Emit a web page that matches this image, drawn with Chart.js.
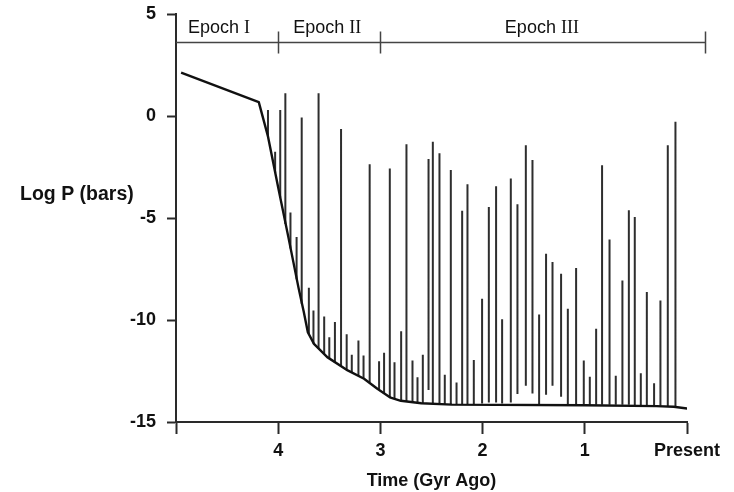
<!DOCTYPE html>
<html>
<head>
<meta charset="utf-8">
<script src="https://cdn.jsdelivr.net/npm/chart.js@4/dist/chart.umd.min.js"></script>
<style>
  html, body { margin: 0; padding: 0; background: #fff; }
  #wrap { width: 734px; height: 492px; }
</style>
</head>
<body>
<div id="wrap"><canvas id="pressureChart"></canvas></div>
<script>
// background pressure curve (Gyr ago, log bars)
const curveTime = [4.95, 4.19, 4.1, 4.0, 3.9, 3.8, 3.75, 3.71, 3.65, 3.52, 3.32, 3.16, 3.03, 2.9, 2.8, 2.6, 2.3, 1.0, 0.3, 0.13, -0.02];
const curveLogP = [2.13, 0.68, -1.0, -3.5, -5.95, -8.45, -9.6, -10.6, -11.17, -11.82, -12.47, -12.88, -13.37, -13.81, -13.96, -14.08, -14.15, -14.18, -14.22, -14.25, -14.35];

// episodic spikes: time, bottom and top of each spike
const spikeTime = [4.10, 4.03, 3.98, 3.93, 3.88, 3.82, 3.77, 3.70, 3.655, 3.605, 3.55, 3.50, 3.445, 3.385, 3.33, 3.28, 3.215, 3.165, 3.105,
  3.013, 2.964, 2.908, 2.862, 2.797, 2.745, 2.686, 2.637, 2.585, 2.529, 2.487, 2.422, 2.37, 2.311, 2.255, 2.2, 2.148,
  2.086, 2.005, 1.939, 1.868, 1.809, 1.724, 1.659, 1.577, 1.512, 1.447, 1.379, 1.316, 1.232, 1.166,
  1.085, 1.01, 0.951, 0.889, 0.831, 0.758, 0.697, 0.632, 0.569, 0.511, 0.452, 0.393, 0.322, 0.26, 0.188, 0.113];
const spikeLow = [-1.05, -2.8, -4.0, -5.3, -6.5, -8.0, -9.2, -10.7, -11.15, -11.4, -11.65, -11.87, -12.08, -12.25, -12.45, -12.57, -12.74, -12.87, -13.05,
  -13.4, -13.6, -13.8, -13.88, -13.96, -14.0, -14.04, -14.07, -14.1, -13.43, -14.13, -14.13, -14.15, -14.15, -14.15, -14.15, -14.15,
  -14.16, -14.09, -14.04, -14.04, -14.09, -14.04, -13.63, -13.22, -13.6, -14.13, -13.66, -13.22, -13.76, -14.16,
  -14.16, -14.16, -14.16, -14.16, -14.16, -14.16, -14.16, -14.16, -14.16, -14.18, -14.18, -14.2, -14.2, -14.2, -14.22, -14.24];
const spikeHigh = [0.29, -1.75, 0.29, 1.11, -4.73, -5.93, -0.07, -8.42, -9.53, 1.11, -9.83, -10.84, -10.1, -0.64, -10.7, -11.7, -11.0, -11.74, -2.36,
  -12.02, -11.6, -2.57, -12.07, -10.55, -1.38, -11.99, -12.81, -11.7, -2.11, -1.26, -1.83, -12.68, -2.65, -13.06, -4.65, -3.34,
  -11.96, -8.96, -4.46, -3.44, -9.96, -3.06, -4.32, -1.43, -2.16, -9.73, -6.75, -7.16, -7.73, -9.45,
  -7.45, -11.99, -12.78, -10.43, -2.42, -6.06, -12.73, -8.06, -4.62, -4.95, -12.61, -8.63, -13.1, -9.04, -1.43, -0.28];

const xTicks = [5, 4, 3, 2, 1, 0];
const yTicks = [5, 0, -5, -10, -15];

// epochs: boundaries (Gyr ago) and where each name sits
const epochBounds = [5, 4, 3, -0.18];
const epochNames = ['I', 'II', 'III'];
const epochLabelAt = [4.58, 3.52, 1.42];

const ink = '#2a2a2a';
const boldFont = { family: 'Liberation Sans, Arial, sans-serif', size: 18, weight: 'bold' };

const spikePoints = [];
spikeTime.forEach((t, i) => {
    spikePoints.push({ x: t, y: spikeLow[i] });
    spikePoints.push({ x: t, y: spikeHigh[i] });
    spikePoints.push({ x: t, y: null });
});

const extras = {
    id: 'extras',
    afterDraw(chart) {
        const ctx = chart.ctx;
        const xs = chart.scales.x;
        const ys = chart.scales.y;
        ctx.save();

        // epoch bracket
        const by = ys.getPixelForValue(3.6);
        ctx.strokeStyle = '#444';
        ctx.lineWidth = 1.5;
        ctx.beginPath();
        ctx.moveTo(xs.getPixelForValue(epochBounds[0]), by);
        ctx.lineTo(xs.getPixelForValue(epochBounds[epochBounds.length - 1]), by);
        for (let i = 1; i < epochBounds.length; i++) {
            const px = Math.round(xs.getPixelForValue(epochBounds[i])) + 0.5;
            ctx.moveTo(px, by - 11);
            ctx.lineTo(px, by + 11);
        }
        ctx.stroke();

        ctx.fillStyle = '#111';
        ctx.textBaseline = 'alphabetic';
        const ly = by - 10;
        epochNames.forEach((nm, i) => {
            ctx.font = '18px "Liberation Sans", Arial, sans-serif';
            const w1 = ctx.measureText('Epoch ').width;
            ctx.font = '18px "Liberation Serif", "Times New Roman", serif';
            const w2 = ctx.measureText(nm).width;
            const cx = xs.getPixelForValue(epochLabelAt[i]);
            const x0 = cx - (w1 + w2) / 2;
            ctx.font = '18px "Liberation Sans", Arial, sans-serif';
            ctx.textAlign = 'left';
            ctx.fillText('Epoch ', x0, ly);
            ctx.font = '18px "Liberation Serif", "Times New Roman", serif';
            ctx.fillText(nm, x0 + w1, ly);
        });

        // horizontal y axis title
        ctx.font = 'bold 19.5px "Liberation Sans", Arial, sans-serif';
        ctx.textAlign = 'left';
        ctx.fillText('Log P (bars)', 20, 200);
        ctx.restore();
    }
};

new Chart(document.getElementById('pressureChart'), {
    type: 'line',
    data: {
        datasets: [
            {
                label: 'Spikes',
                data: spikePoints,
                borderColor: '#2e2e2e',
                borderWidth: 2,
                pointRadius: 0,
                spanGaps: false,
                borderCapStyle: 'butt',
                order: 2
            },
            {
                label: 'Background',
                data: curveTime.map((t, i) => ({ x: t, y: curveLogP[i] })),
                borderColor: '#111',
                borderWidth: 2.4,
                pointRadius: 0,
                tension: 0,
                borderJoinStyle: 'round',
                order: 1
            }
        ]
    },
    options: {
        responsive: true,
        maintainAspectRatio: false,
        animation: false,
        layout: { padding: { top: 14, right: 47, left: 0, bottom: 0 } },
        plugins: {
            legend: { display: false },
            tooltip: { enabled: false }
        },
        scales: {
            x: {
                type: 'linear',
                reverse: true,
                min: 0,
                max: 5,
                afterBuildTicks: (s) => { s.ticks = xTicks.map(v => ({ value: v })); },
                afterFit: (s) => { s.height = 70; s.paddingLeft = 0; s.paddingRight = 0; },
                ticks: {
                    autoSkip: false,
                    maxRotation: 0,
                    padding: 6,
                    color: '#111',
                    font: boldFont,
                    callback: (v) => v === 0 ? 'Present' : (v === 5 ? '' : String(v))
                },
                grid: { drawOnChartArea: false, drawTicks: true, tickLength: 12, tickColor: ink, tickWidth: 2 },
                border: { display: true, color: ink, width: 2 },
                title: { display: true, text: 'Time (Gyr Ago)', color: '#111', font: boldFont, padding: { top: 0, bottom: 0 } }
            },
            y: {
                type: 'linear',
                min: -15,
                max: 5,
                afterBuildTicks: (s) => { s.ticks = yTicks.map(v => ({ value: v })); },
                afterFit: (s) => { s.width = 176; s.paddingTop = 0; s.paddingBottom = 0; },
                ticks: { padding: 11, color: '#111', font: boldFont },
                grid: { drawOnChartArea: false, drawTicks: true, tickLength: 9, tickColor: ink, tickWidth: 2 },
                border: { display: true, color: ink, width: 2 }
            }
        }
    },
    plugins: [extras]
});
</script>
</body>
</html>
